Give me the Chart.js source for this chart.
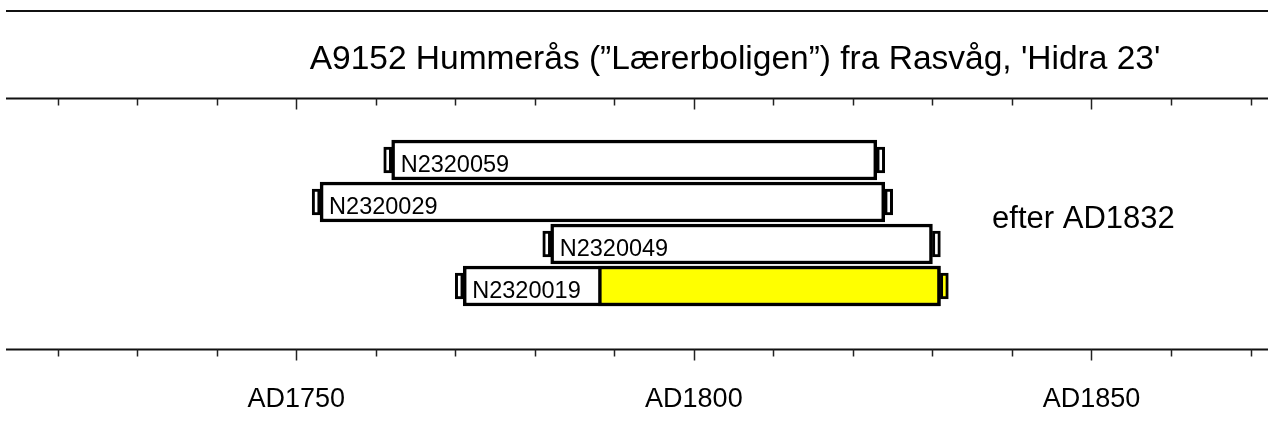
<!DOCTYPE html>
<html>
<head>
<meta charset="utf-8">
<script src="https://cdn.jsdelivr.net/npm/chart.js@4.4.1/dist/chart.umd.min.js"></script>
<style>
	html, body { margin: 0; padding: 0; background: #fff; }
	#wrap { width: 1269px; height: 433px; }
</style>
</head>
<body>
<div id="wrap"><canvas id="chart"></canvas></div>
<script>
//  Samples, top to bottom
const samples = [`N2320059`, `N2320029`, `N2320049`, `N2320019`]
const startYears = [1762, 1753, 1782, 1771]
const endYears = [1823, 1824, 1830, 1831]
//  First sapwood ring (yellow part), null when the sample has none
const sapwoodStart = [null, null, null, 1788]

const title = `A9152 Hummerås (”Lærerboligen”) fra Rasvåg, 'Hidra 23'`
const verdict = `efter AD1832`
const verdictYear = 1837.5
const yearMin = 1713.5
const yearMax = 1872.2
const tickStep = 10
const labelStep = 50

const FONT = `"Liberation Sans", Arial, sans-serif`
Chart.defaults.font.family = FONT
Chart.defaults.color = `#000`

//  One empty row above and below the samples
const pad = arr => [null, ...arr, null]
const rows = [``, ...samples, ``]
const bodies = pad(samples.map((s, i) => [startYears[i], endYears[i]]))
const sapwood = pad(sapwoodStart.map((s, i) => s === null ? null : [s, endYears[i]]))
const leftCaps = pad(startYears.map(y => [y - 1, y]))
const rightCaps = pad(endYears.map(y => [y, y + 1]))
const rightCapColors = pad(sapwoodStart.map(s => s === null ? `#ffffff` : `#ffff00`))

const barStyle = {
	borderColor: `#000`,
	borderSkipped: false,
	grouped: false
}

//  Axis lines, tick marks and the texts the library has no slot for
const decorations = {
	id: `decorations`,
	afterDraw(chart) {
		const { ctx, chartArea: area, scales: { x } } = chart
		ctx.save()
		ctx.strokeStyle = `#111`
		ctx.lineWidth = 2
		const lines = [11, area.top + 1.5, area.bottom + 0.5]
		lines.forEach(y => {
			ctx.beginPath()
			ctx.moveTo(area.left, y)
			ctx.lineTo(area.right, y)
			ctx.stroke()
		})
		//  Ticks hang down from both axis lines
		ctx.lineWidth = 1.5
		ctx.strokeStyle = `#222`
		for (let v = Math.ceil(yearMin / tickStep) * tickStep; v <= yearMax; v += tickStep) {
			const px = Math.round(x.getPixelForValue(v)) + 0.5
			const len = v % labelStep === 0 ? 11 : 7
			;[lines[1], lines[2]].forEach(y => {
				ctx.beginPath()
				ctx.moveTo(px, y)
				ctx.lineTo(px, y + len)
				ctx.stroke()
			})
		}

		ctx.fillStyle = `#000`
		ctx.textBaseline = `alphabetic`
		ctx.textAlign = `center`
		ctx.font = `33.5px ${FONT}`
		ctx.fillText(title, 735, 69)

		ctx.textAlign = `left`
		ctx.font = `31px ${FONT}`
		ctx.fillText(verdict, x.getPixelForValue(verdictYear), 228)

		//  Sample names sit inside their bars
		ctx.font = `23.5px ${FONT}`
		chart.getDatasetMeta(1).data.forEach((bar, i) => {
			if (!rows[i]) return
			ctx.fillText(rows[i], Math.min(bar.x, bar.base) + 9, bar.y + 11.5)
		})
		ctx.restore()
	}
}

new Chart(document.getElementById(`chart`), {
	type: `bar`,
	data: {
		labels: rows,
		datasets: [
			{ label: `sapwood`, data: sapwood, backgroundColor: `#ffff00`, borderWidth: 3.5, barThickness: 40, order: 0, ...barStyle },
			{ label: `samples`, data: bodies, backgroundColor: `#ffffff`, borderWidth: 3.5, barThickness: 40, order: 1, ...barStyle },
			{ label: `pith`, data: leftCaps, backgroundColor: `#ffffff`, borderWidth: 3, barThickness: 26, order: 2, ...barStyle },
			{ label: `bark`, data: rightCaps, backgroundColor: rightCapColors, borderWidth: 3, barThickness: 26, order: 2, ...barStyle }
		]
	},
	options: {
		indexAxis: `y`,
		responsive: true,
		maintainAspectRatio: false,
		animation: false,
		layout: { padding: { left: 6, right: 1, top: 97, bottom: 0 } },
		plugins: {
			legend: { display: false },
			tooltip: { enabled: false }
		},
		scales: {
			y: { display: false },
			x: {
				type: `linear`,
				min: yearMin,
				max: yearMax,
				grid: { display: false, drawTicks: false },
				border: { display: false },
				//  Keep the plot as wide as the page and its bottom at the lower axis line
				afterFit: scale => {
					scale.height = 84
					scale.paddingLeft = 0
					scale.paddingRight = 0
				},
				ticks: {
					stepSize: tickStep,
					autoSkip: false,
					maxRotation: 0,
					padding: 34,
					font: { size: 27 },
					color: `#000`,
					callback: v => v % labelStep === 0 ? `AD${v}` : ``
				}
			}
		}
	},
	plugins: [decorations]
})
</script>
</body>
</html>
